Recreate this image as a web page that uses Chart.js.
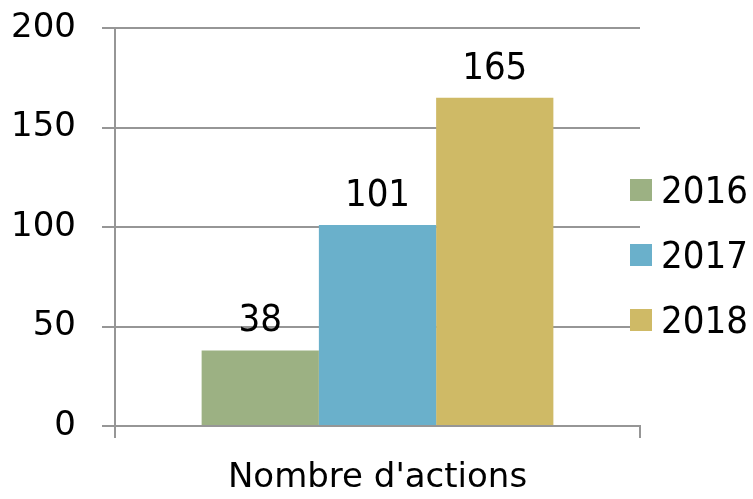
<!DOCTYPE html>
<html>
<head>
<meta charset="utf-8">
<script src="https://cdn.jsdelivr.net/npm/chart.js@4/dist/chart.umd.min.js"></script>
<style>
  html, body { margin: 0; padding: 0; background: #fff; }
  #wrap { position: relative; width: 753px; height: 499px; }
  #legend { position: absolute; left: 630px; top: 179px; font-family: "DejaVu Sans Condensed", "DejaVu Sans", sans-serif; font-size: 38px; color: #000; }
  #legend .item { display: flex; align-items: center; height: 22px; margin-bottom: 43px; white-space: nowrap; }
  #legend .box { width: 22px; height: 22px; margin-right: 9px; flex: none; }
</style>
</head>
<body>
<div id="wrap">
  <canvas id="chart" width="753" height="499"></canvas>
  <div id="legend"></div>
</div>
<script>
var categories = ["Nombre d'actions"];
var years = ['2016', '2017', '2018'];
var actions = [38, 101, 165];
var colors = ['#9cb183', '#6ab0cb', '#cfba66'];
var yTicks = [0, 50, 100, 150, 200];

var tickFont = { family: 'DejaVu Sans', size: 34 };
var catFont = { family: 'DejaVu Sans', size: 34 };
var labelFont = { family: 'DejaVu Sans Condensed', size: 38 };

var valueLabels = {
    id: 'valueLabels',
    afterDatasetsDraw: function (chart) {
        var ctx = chart.ctx;
        ctx.save();
        ctx.font = labelFont.size + 'px "' + labelFont.family + '"';
        ctx.fillStyle = '#000';
        ctx.textAlign = 'center';
        ctx.textBaseline = 'alphabetic';
        chart.data.datasets.forEach(function (ds, i) {
            chart.getDatasetMeta(i).data.forEach(function (bar, j) {
                ctx.fillText(ds.data[j], bar.x, bar.y - 19);
            });
        });
        ctx.restore();
    }
};

new Chart('chart', {
    type: 'bar',
    data: {
        labels: categories,
        datasets: years.map(function (y, i) {
            return {
                label: y,
                data: [actions[i]],
                backgroundColor: colors[i],
                categoryPercentage: 0.67,
                barPercentage: 1.0
            };
        })
    },
    options: {
        responsive: false,
        animation: false,
        layout: { padding: { top: 28, right: 113, left: 0, bottom: 0 } },
        plugins: {
            legend: { display: false },
            tooltip: { enabled: false }
        },
        scales: {
            x: {
                grid: { drawOnChartArea: false, color: '#969696', lineWidth: 2, tickLength: 12 },
                border: { color: '#969696', width: 2 },
                ticks: { color: '#000', font: catFont, padding: 20 },
                afterFit: function (scale) {
                    scale.height = 73;
                    scale.paddingLeft = 0;
                    scale.paddingRight = 0;
                }
            },
            y: {
                min: 0,
                max: 200,
                afterBuildTicks: function (scale) {
                    scale.ticks = yTicks.map(function (v) { return { value: v }; });
                },
                grid: { color: '#969696', lineWidth: 2, tickLength: 13 },
                border: { color: '#969696', width: 2 },
                ticks: { color: '#000', font: tickFont, padding: 26 },
                afterFit: function (scale) {
                    scale.width = 115;
                    scale.paddingTop = 0;
                    scale.paddingBottom = 0;
                }
            }
        }
    },
    plugins: [valueLabels]
});

var legend = document.getElementById('legend');
years.forEach(function (y, i) {
    var item = document.createElement('div');
    item.className = 'item';
    item.innerHTML = '<span class="box" style="background:' + colors[i] + '"></span><span>' + y + '</span>';
    legend.appendChild(item);
});
</script>
</body>
</html>
